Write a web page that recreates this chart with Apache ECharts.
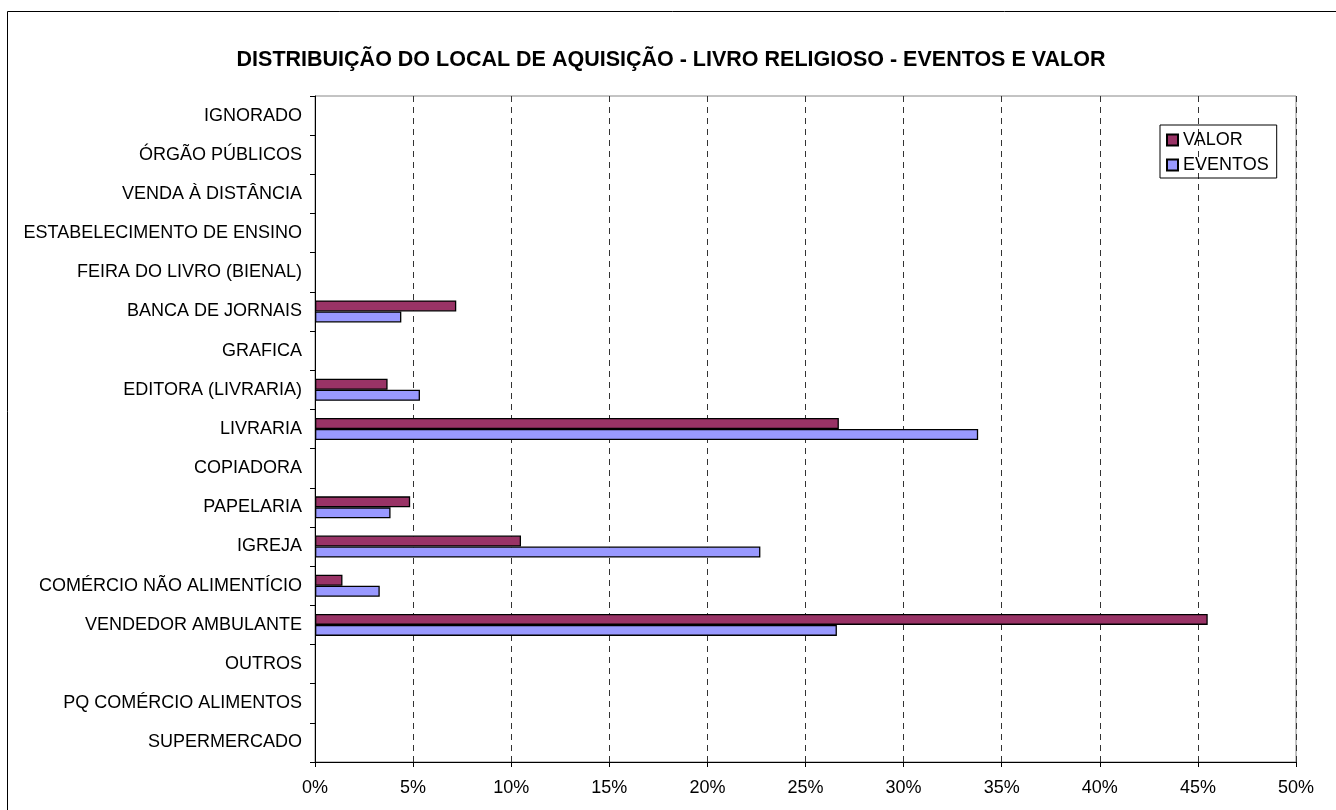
<!DOCTYPE html>
<html>
<head>
<meta charset="utf-8">
<script src="https://cdn.jsdelivr.net/npm/echarts@6/dist/echarts.min.js"></script>
<style>
  html, body { margin: 0; padding: 0; background: #fff; }
  #main { width: 1336px; height: 810px; }
</style>
</head>
<body>
<div id="main"></div>
<script>
// categorias de baixo para cima (eixo y do ECharts)
var categorias = [
  'SUPERMERCADO', 'PQ COMÉRCIO ALIMENTOS', 'OUTROS', 'VENDEDOR AMBULANTE',
  'COMÉRCIO NÃO ALIMENTÍCIO', 'IGREJA', 'PAPELARIA', 'COPIADORA', 'LIVRARIA',
  'EDITORA (LIVRARIA)', 'GRAFICA', 'BANCA DE JORNAIS', 'FEIRA DO LIVRO (BIENAL)',
  'ESTABELECIMENTO DE ENSINO', 'VENDA À DISTÂNCIA', 'ÓRGÃO PÚBLICOS', 'IGNORADO'
]
// valores em %
var eventos = [null, null, null, 26.6, 3.3, 22.7, 3.85, null, 33.8, 5.35, null, 4.4, null, null, null, null, null]
var valor = [null, null, null, 45.5, 1.4, 10.5, 4.85, null, 26.7, 3.7, null, 7.2, null, null, null, null, null]

var font = 'Liberation Sans, Arial, sans-serif'
var myChart = echarts.init(document.getElementById('main'))
var option = {
  animation: false,
  backgroundColor: '#fff',
  textStyle: {fontFamily: font},
  title: {
    text: 'DISTRIBUIÇÃO DO LOCAL DE AQUISIÇÃO - LIVRO RELIGIOSO - EVENTOS E VALOR',
    left: 666,
    textAlign: 'center',
    top: 44,
    textStyle: {fontFamily: font, fontSize: 21.5, fontWeight: 'bold', color: '#000'}
  },
  legend: {
    orient: 'vertical',
    left: 1160,
    top: 125,
    data: ['VALOR', 'EVENTOS'],
    icon: 'rect',
    itemWidth: 11,
    itemHeight: 11,
    itemGap: 7,
    padding: [6, 8, 4, 6],
    borderColor: '#000',
    borderWidth: 1,
    textStyle: {fontFamily: font, fontSize: 18, lineHeight: 18, color: '#000'}
  },
  grid: {
    left: 315,
    right: 40,
    top: 96,
    bottom: 48,
    show: true,
    borderColor: '#888',
    borderWidth: 1
  },
  xAxis: {
    type: 'value',
    min: 0,
    max: 50,
    interval: 5,
    axisLine: {show: true, lineStyle: {color: '#000'}},
    axisTick: {show: true, length: 5, lineStyle: {color: '#000'}},
    axisLabel: {formatter: '{value}%', fontSize: 18, color: '#000', margin: 17, fontFamily: font},
    splitLine: {show: true, lineStyle: {color: '#333', type: [6, 5], width: 1}}
  },
  yAxis: {
    type: 'category',
    data: categorias,
    axisLine: {show: true, lineStyle: {color: '#000'}},
    axisTick: {show: true, length: 5, lineStyle: {color: '#000'}},
    axisLabel: {fontSize: 18, color: '#000', margin: 13, fontFamily: font},
    splitLine: {show: false}
  },
  series: [
    {
      name: 'VALOR',
      type: 'bar',
      data: valor,
      barWidth: 11,
      barGap: '0%',
      itemStyle: {color: '#993366', borderColor: '#000', borderWidth: 1.3}
    },
    {
      name: 'EVENTOS',
      type: 'bar',
      data: eventos,
      barWidth: 11,
      barGap: '0%',
      itemStyle: {color: '#9999ff', borderColor: '#000', borderWidth: 1.3}
    }
  ],
  graphic: [{
    type: 'rect',
    shape: {x: 7.5, y: 11.5, width: 1340, height: 820},
    style: {fill: 'none', stroke: '#000', lineWidth: 1}
  }]
}
myChart.setOption(option)
</script>
</body>
</html>
